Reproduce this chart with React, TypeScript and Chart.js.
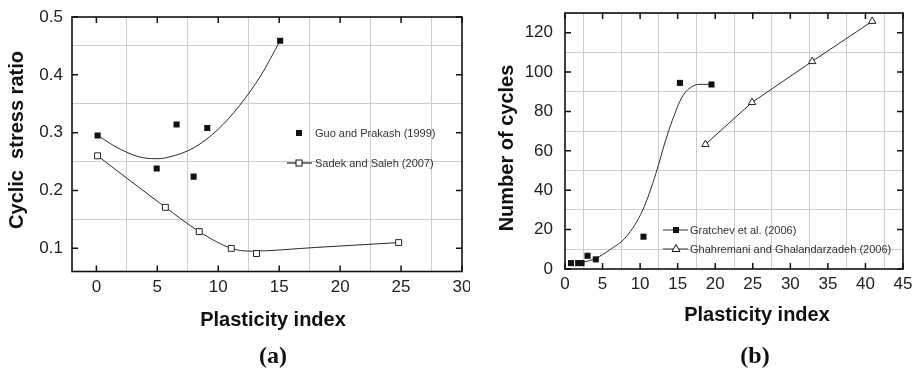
import React, { useEffect, useRef } from "react";
import { Chart, registerables } from "chart.js";

Chart.register(...registerables);

// ---------- Data (a) ----------
const guoPI = [0.1, 4.95, 6.58, 7.98, 9.1, 15.08];
const guoCSR = [0.295, 0.238, 0.314, 0.224, 0.308, 0.459];
const guoFitPI = [0.1, 2, 4, 5, 6, 8, 10, 11.75, 13.5, 15.08];
const guoFitCSR = [0.295, 0.271, 0.256, 0.255, 0.258, 0.274, 0.306, 0.347, 0.399, 0.459];

const sadekPI = [0.1, 5.66, 8.44, 11.07, 13.14, 24.8];
const sadekCSR = [0.26, 0.171, 0.129, 0.1, 0.091, 0.11];
const sadekFitPI = [0.1, 5.66, 8.44, 11.07, 12.6, 18, 24.8];
const sadekFitCSR = [0.26, 0.171, 0.129, 0.1, 0.0952, 0.1016, 0.11];

// ---------- Data (b) ----------
const gratPI = [0.8, 1.75, 2.2, 3.0, 4.1, 10.45, 15.3, 19.5];
const gratN = [3, 3, 3, 6.7, 4.9, 16.4, 94.5, 93.7];
const gratFitPI = [2.2, 4.1, 5.9, 8.15, 10.35, 12.1, 13.4, 14.3, 15.6, 17.0, 18.3, 19.5];
const gratFitN = [3.2, 5.4, 9.6, 16.4, 29.9, 48.5, 65.4, 75.6, 87.4, 92.8, 93.8, 93.7];

const ghaPI = [18.7, 24.9, 32.9, 40.9];
const ghaN = [63.3, 84.6, 105.4, 125.8];

// ---------- Labels ----------
const titleA_Y = "Cyclic  stress ratio";
const titleB_Y = "Number of cycles";
const titleX = "Plasticity index";
const panelA = "(a)";
const panelB = "(b)";
const legendA = ["Guo and Prakash (1999)", "Sadek and Saleh (2007)"];
const legendB = ["Gratchev et al. (2006)", "Ghahremani and Ghalandarzadeh (2006)"];

const FONT = "'Liberation Sans', Arial, Helvetica, sans-serif";
const H = 371;

const isMult = (v: number, s: number) => Math.abs(v / s - Math.round(v / s)) < 1e-6;
const pts = (xs: number[], ys: number[]) => xs.map((x, i) => ({ x, y: ys[i] }));

type TextItem = { text: string; x: number; y: number; font: string; rotate?: boolean };
type LegendItem = { kind: "fsq" | "osq" | "otri"; line: boolean; lineColor: string; lineWidth: number; x0: number; x1: number; mx: number; y: number; tx: number; text: string };

function drawMarker(ctx: CanvasRenderingContext2D, kind: string, x: number, y: number) {
  ctx.save();
  ctx.lineWidth = 1;
  ctx.strokeStyle = "#111";
  if (kind === "fsq") {
    ctx.fillStyle = "#111";
    ctx.fillRect(x - 3, y - 3, 6, 6);
  } else if (kind === "osq") {
    ctx.fillStyle = "#fff";
    ctx.fillRect(x - 3, y - 3, 6, 6);
    ctx.strokeRect(x - 3, y - 3, 6, 6);
  } else {
    ctx.beginPath();
    ctx.moveTo(x, y - 4.5);
    ctx.lineTo(x - 4, y + 2.5);
    ctx.lineTo(x + 4, y + 2.5);
    ctx.closePath();
    ctx.fillStyle = "#fff";
    ctx.fill();
    ctx.stroke();
  }
  ctx.restore();
}

function decorPlugin(texts: TextItem[], legend: LegendItem[], xMajor: number, yMajor: number) {
  return {
    id: "decor",
    afterDraw(chart: any) {
      const ctx: CanvasRenderingContext2D = chart.ctx;
      const a = chart.chartArea;
      const xs = chart.scales.x;
      const ys = chart.scales.y;
      ctx.save();
      // inward major ticks
      ctx.strokeStyle = "#111";
      ctx.lineWidth = 1.5;
      ctx.beginPath();
      xs.ticks.forEach((t: any) => {
        if (!isMult(t.value, xMajor)) return;
        const px = xs.getPixelForValue(t.value);
        ctx.moveTo(px, a.bottom);
        ctx.lineTo(px, a.bottom - 6);
        ctx.moveTo(px, a.top);
        ctx.lineTo(px, a.top + 6);
      });
      ys.ticks.forEach((t: any) => {
        if (!isMult(t.value, yMajor)) return;
        const py = ys.getPixelForValue(t.value);
        ctx.moveTo(a.left, py);
        ctx.lineTo(a.left + 6, py);
        ctx.moveTo(a.right, py);
        ctx.lineTo(a.right - 6, py);
      });
      ctx.stroke();
      // frame
      ctx.lineWidth = 1.6;
      ctx.strokeRect(a.left, a.top, a.right - a.left, a.bottom - a.top);
      // texts
      ctx.fillStyle = "#111";
      ctx.textAlign = "center";
      ctx.textBaseline = "middle";
      texts.forEach((t) => {
        ctx.save();
        ctx.font = t.font;
        ctx.translate(t.x, t.y);
        if (t.rotate) ctx.rotate(-Math.PI / 2);
        ctx.fillText(t.text, 0, 0);
        ctx.restore();
      });
      // legend
      legend.forEach((l) => {
        if (l.line) {
          ctx.save();
          ctx.strokeStyle = l.lineColor;
          ctx.lineWidth = l.lineWidth;
          ctx.beginPath();
          ctx.moveTo(l.x0, l.y);
          ctx.lineTo(l.x1, l.y);
          ctx.stroke();
          ctx.restore();
        }
        drawMarker(ctx, l.kind, l.mx, l.y);
        ctx.save();
        ctx.font = `11px ${FONT}`;
        ctx.fillStyle = "#333";
        ctx.textAlign = "left";
        ctx.textBaseline = "middle";
        ctx.fillText(l.text, l.tx, l.y + 0.5);
        ctx.restore();
      });
      ctx.restore();
    },
  };
}

type Cfg = {
  datasets: any[];
  xMin: number; xMax: number; xStep: number; xMajor: number;
  yMin: number; yMax: number; yStep: number; yMajor: number; yDigits: number;
  yWidth: number; bottom: number; padTop: number; padRight: number;
  yLabelPad: number; xLabelPad: number;
  texts: TextItem[]; legend: LegendItem[];
};

function buildConfig(c: Cfg): any {
  const tickFont = { family: FONT, size: 17 };
  return {
    type: "scatter",
    data: { datasets: c.datasets },
    options: {
      responsive: false,
      animation: false,
      events: [],
      layout: { padding: { top: c.padTop, right: c.padRight, left: 0, bottom: 0 } },
      plugins: { legend: { display: false }, tooltip: { enabled: false } },
      scales: {
        x: {
          type: "linear",
          min: c.xMin,
          max: c.xMax,
          afterFit: (s: any) => {
            s.height = H - c.bottom;
            s.paddingLeft = 0;
            s.paddingRight = 0;
          },
          border: { display: false },
          grid: {
            drawTicks: false,
            lineWidth: 1,
            color: (ctx: any) => {
              const v = ctx.tick ? ctx.tick.value : NaN;
              return isMult(v, c.xStep) && !isMult(v, c.xMajor) ? "#cdcdcd" : "rgba(0,0,0,0)";
            },
          },
          ticks: {
            stepSize: c.xStep,
            includeBounds: false,
            autoSkip: false,
            maxRotation: 0,
            padding: c.xLabelPad,
            color: "#222",
            font: tickFont,
            callback: (v: any) => (isMult(Number(v), c.xMajor) ? String(Math.round(Number(v))) : ""),
          },
        },
        y: {
          type: "linear",
          min: c.yMin,
          max: c.yMax,
          afterFit: (s: any) => {
            s.width = c.yWidth;
            s.paddingTop = 0;
            s.paddingBottom = 0;
          },
          border: { display: false },
          grid: {
            drawTicks: false,
            lineWidth: 1,
            color: (ctx: any) => {
              const v = ctx.tick ? ctx.tick.value : NaN;
              return isMult(v, c.yStep) && !isMult(v, c.yMajor) ? "#cdcdcd" : "rgba(0,0,0,0)";
            },
          },
          ticks: {
            stepSize: c.yStep,
            includeBounds: false,
            autoSkip: false,
            padding: c.yLabelPad,
            color: "#222",
            font: tickFont,
            callback: (v: any) => (isMult(Number(v), c.yMajor) ? Number(v).toFixed(c.yDigits) : ""),
          },
        },
      },
    },
    plugins: [decorPlugin(c.texts, c.legend, c.xMajor, c.yMajor)],
  };
}

const lineStyle = { showLine: true, pointRadius: 0, borderColor: "#2a2a2a", borderWidth: 1, cubicInterpolationMode: "monotone", fill: false };

function configA() {
  return buildConfig({
    datasets: [
      { data: pts(guoPI, guoCSR), pointStyle: "rect", pointRadius: 4.3, backgroundColor: "#111", borderColor: "#111", borderWidth: 0, showLine: false },
      { data: pts(sadekPI, sadekCSR), pointStyle: "rect", pointRadius: 4.2, backgroundColor: "#fff", borderColor: "#222", borderWidth: 1, showLine: false },
      { data: pts(guoFitPI, guoFitCSR), ...lineStyle },
      { data: pts(sadekFitPI, sadekFitCSR), ...lineStyle },
    ],
    xMin: -2, xMax: 30, xStep: 2.5, xMajor: 5,
    yMin: 0.06, yMax: 0.5, yStep: 0.05, yMajor: 0.1, yDigits: 1,
    yWidth: 72, bottom: 271.5, padTop: 17, padRight: 8,
    yLabelPad: 9, xLabelPad: 6,
    texts: [
      { text: titleA_Y, x: 17, y: 140, font: `bold 20px ${FONT}`, rotate: true },
      { text: titleX, x: 273, y: 320, font: `bold 20px ${FONT}` },
      { text: panelA, x: 273, y: 357, font: `bold 24px 'Liberation Serif', 'Times New Roman', serif` },
    ],
    legend: [
      { kind: "fsq", line: false, lineColor: "#777", lineWidth: 2, x0: 287, x1: 312, mx: 299, y: 133, tx: 315, text: legendA[0] },
      { kind: "osq", line: true, lineColor: "#777", lineWidth: 2, x0: 287, x1: 312, mx: 299, y: 163, tx: 315, text: legendA[1] },
    ],
  });
}

function configB() {
  return buildConfig({
    datasets: [
      { data: pts(gratPI, gratN), pointStyle: "rect", pointRadius: 4.3, backgroundColor: "#111", borderColor: "#111", borderWidth: 0, showLine: false },
      { data: pts(ghaPI, ghaN), pointStyle: "triangle", pointRadius: 4.3, backgroundColor: "#fff", borderColor: "#222", borderWidth: 1, showLine: false },
      { data: pts(gratFitPI, gratFitN), ...lineStyle },
      { data: pts(ghaPI, ghaN), ...lineStyle, cubicInterpolationMode: "default", tension: 0 },
    ],
    xMin: 0, xMax: 45, xStep: 2.5, xMajor: 5,
    yMin: 0, yMax: 130, yStep: 10, yMajor: 20, yDigits: 0,
    yWidth: 95, bottom: 269, padTop: 13, padRight: 14,
    yLabelPad: 12, xLabelPad: 5,
    texts: [
      { text: titleB_Y, x: 37, y: 148, font: `bold 20px ${FONT}`, rotate: true },
      { text: titleX, x: 287, y: 315, font: `bold 20px ${FONT}` },
      { text: panelB, x: 285, y: 357, font: `bold 24px 'Liberation Serif', 'Times New Roman', serif` },
    ],
    legend: [
      { kind: "fsq", line: true, lineColor: "#333", lineWidth: 1, x0: 193, x1: 218, mx: 206, y: 230, tx: 220, text: legendB[0] },
      { kind: "otri", line: true, lineColor: "#333", lineWidth: 1, x0: 193, x1: 218, mx: 206, y: 249, tx: 220, text: legendB[1] },
    ],
  });
}

function Panel({ make, left, width }: { make: () => any; left: number; width: number }) {
  const ref = useRef<HTMLCanvasElement>(null);
  useEffect(() => {
    const chart = new Chart(ref.current as HTMLCanvasElement, make());
    return () => chart.destroy();
  }, []);
  return (
    <canvas
      ref={ref}
      width={width}
      height={H}
      style={{ position: "absolute", left, top: 0, width, height: H, display: "block" }}
    />
  );
}

export default function App() {
  return (
    <div style={{ position: "absolute", left: 0, top: 0, width: 917, height: H, background: "#fff", overflow: "hidden" }}>
      <Panel make={configA} left={0} width={470} />
      <Panel make={configB} left={470} width={447} />
    </div>
  );
}
